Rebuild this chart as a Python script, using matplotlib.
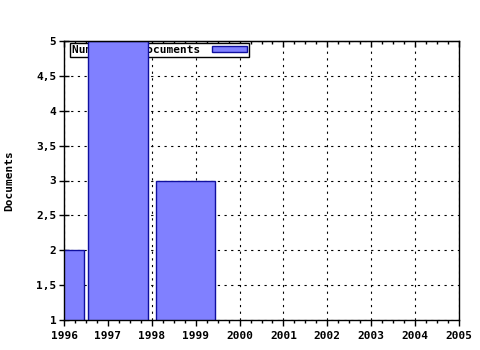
import matplotlib
matplotlib.use("Agg")
import matplotlib.pyplot as plt
from matplotlib.ticker import MultipleLocator, NullFormatter

# Data
bar_centers = [1995.78, 1997.23, 1998.77]
bar_values = [2, 5, 3]
bar_width = 1.36
x_ticks = [1996, 1997, 1998, 1999, 2000, 2001, 2002, 2003, 2004, 2005]
y_ticks = [1, 1.5, 2, 2.5, 3, 3.5, 4, 4.5, 5]
y_tick_labels = ["1", "1,5", "2", "2,5", "3", "3,5", "4", "4,5", "5"]
series_name = "Number of documents"
y_label = "Documents"

plt.rcParams['font.family'] = ['DejaVu Sans Mono']
plt.rcParams['font.weight'] = 'bold'

fig = plt.figure(figsize=(4.8, 3.5), dpi=100)
ax = fig.add_axes([64/480, 30/350, 395/480, 279/350])

bars = ax.bar(bar_centers, bar_values, width=bar_width, bottom=0,
              color='#8080ff', edgecolor='#1010a0', linewidth=1,
              label=series_name, zorder=6)

ax.set_xlim(1996, 2005)
ax.set_ylim(1, 5)
ax.set_xticks(x_ticks)
ax.set_xticklabels([str(t) for t in x_ticks], fontsize=8, fontweight='bold')
ax.xaxis.set_minor_locator(MultipleLocator(0.25))
ax.set_yticks(y_ticks)
ax.set_yticklabels(y_tick_labels, fontsize=8, fontweight='bold')

ax.grid(True, which='major', color='black', linestyle=(0, (2, 4)), linewidth=0.8, zorder=1)
ax.set_axisbelow(True)

ax.tick_params(axis='x', which='major', direction='out', length=4, width=1, pad=4)
ax.tick_params(axis='x', which='minor', direction='out', length=2, width=1)
ax.tick_params(axis='y', which='major', direction='inout', length=7, width=1, pad=2)

top = ax.secondary_xaxis('top')
top.set_xticks(x_ticks)
top.xaxis.set_minor_locator(MultipleLocator(0.25))
top.xaxis.set_major_formatter(NullFormatter())
top.tick_params(axis='x', which='major', direction='in', length=4, width=1)
top.tick_params(axis='x', which='minor', direction='in', length=2, width=1)

for s in ax.spines.values():
    s.set_linewidth(1)
    s.set_color('black')
    s.set_zorder(7)

ax.set_ylabel(y_label, fontsize=8, fontweight='bold')
ax.yaxis.set_label_coords(-50/395, 0.5)

leg = ax.legend(loc='upper left', bbox_to_anchor=(0.015, 0.993), borderaxespad=0,
                fancybox=False, framealpha=1, edgecolor='black', markerfirst=False,
                handlelength=3.2, handleheight=0.5, handletextpad=1.0, borderpad=0.2,
                prop={'size': 8, 'weight': 'bold', 'family': 'DejaVu Sans Mono'})
leg.get_frame().set_linewidth(1)
leg.set_zorder(5)

fig.savefig("out.png", dpi=100)
